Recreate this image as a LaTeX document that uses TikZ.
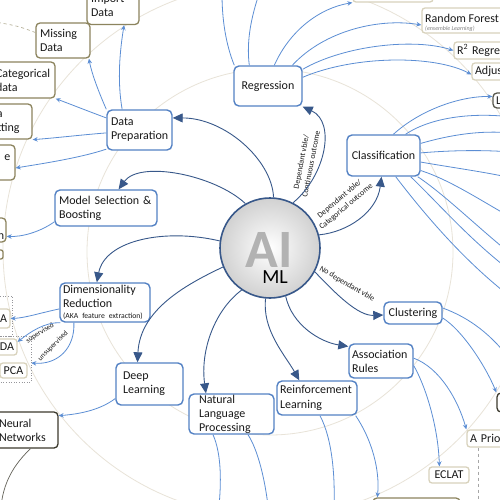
\documentclass[tikz,border=0pt]{standalone}
\usepackage{fontspec}
\setmainfont{Carlito}
\usetikzlibrary{arrows.meta}
\definecolor{mainblue}{RGB}{84,130,196}
\definecolor{darkblue}{RGB}{56,88,138}
\definecolor{lightblue}{RGB}{92,142,212}
\definecolor{oliveb}{RGB}{140,132,94}
\definecolor{beigeb}{RGB}{216,210,188}
\definecolor{darkb}{RGB}{60,58,46}
\definecolor{faintc}{RGB}{232,227,216}
\definecolor{txtc}{RGB}{25,25,25}
\definecolor{aigray}{RGB}{178,178,178}
\definecolor{framec}{RGB}{150,150,155}
\newcommand\bxfont{\fontsize{12}{14}\selectfont}
\newcommand\lbfont{\fontsize{8}{10}\selectfont}
\hyphenpenalty=10000
\exhyphenpenalty=10000
\begin{document}
\begin{tikzpicture}[x=1pt,y=-1pt,
  mbox/.style={draw=mainblue, line width=1.4pt, rounded corners=5pt, fill=white, inner sep=0pt, font=\bxfont, text=txtc, align=left},
  obox/.style={draw=oliveb, line width=1.3pt, rounded corners=4pt, fill=white, inner sep=0pt, font=\bxfont, text=txtc, align=left},
  bbox/.style={draw=beigeb, line width=1.3pt, rounded corners=3pt, fill=white, inner sep=0pt, font=\bxfont, text=txtc, align=left},
  frm/.style={draw=framec, dotted, line width=0.6pt, inner sep=0pt},
  mc/.style={draw=darkblue, line width=0.9pt, -{Triangle[length=10pt,width=9pt]}},
  ca/.style={draw=lightblue, line width=0.8pt, -{Stealth[length=5pt,width=4.5pt]}},
  ln/.style={draw=lightblue, line width=0.8pt},
  sl/.style={font=\fontsize{7.2}{8}\selectfont, text=txtc, inner sep=0pt},
  cl/.style={font=\lbfont, text=txtc, inner sep=0pt, align=center},
  tx/.style={font=\bxfont, text=txtc, inner sep=0pt}
]
\useasboundingbox (0,0) rectangle (500,500);
\clip (0,0) rectangle (500,500);
\fill[white] (0,0) rectangle (500,500);

% faint guide circles
\draw[faintc, line width=0.8pt] (270,252) circle[radius=183pt];
\draw[faintc, line width=0.8pt] (270,250) circle[radius=267pt];

% centre
\node[circle, minimum size=100pt, draw=darkblue, line width=1.6pt, inner color=white, outer color=black!18, inner sep=0pt] (ai) at (270,248) {};
\node[font=\fontsize{54}{54}\selectfont\bfseries, text=aigray, inner sep=0pt] (ait) at (269,250) {AI};
\node[font=\fontsize{20}{20}\selectfont, text=black, inner sep=0pt] (ml) at (275,277) {ML};

% main boxes
\node[mbox, minimum width=68pt, minimum height=40pt, align=center] (reg) at (268,86) {Regression};
\node[mbox, minimum width=65pt, minimum height=40pt, text width=57pt] (dp) at (139.5,130) {Data\\Preparation};
\node[mbox, minimum width=73pt, minimum height=41pt, align=center] (cls) at (383.5,155.5) {Classification};
\node[mbox, minimum width=102pt, minimum height=36pt, text width=94pt] (ms) at (106,208) {Model Selection \&\\Boosting};
\node[mbox, minimum width=90pt, minimum height=39pt, text width=84pt] (dr) at (105,302.5) {Dimensionality\\Reduction\\[-3pt]\mbox{\fontsize{7.7}{9}\selectfont (AKA feature extraction)}};
\node[mbox, minimum width=67pt, minimum height=42pt, text width=53pt] (dl) at (149.5,384) {Deep\\Learning};
\node[mbox, minimum width=85pt, minimum height=40pt, text width=65pt] (nlp) at (231.5,414) {Natural\\Language\\Processing};
\node[mbox, minimum width=80pt, minimum height=34pt, text width=74pt, font=\fontsize{12}{15}\selectfont] (rl) at (317,398) {Reinforcement\\Learning};
\node[mbox, minimum width=64pt, minimum height=34pt, text width=58pt] (ar) at (381,361) {Association\\Rules};
\node[mbox, minimum width=58pt, minimum height=22pt, align=center] (clu) at (413,313) {Clustering};

% olive sub boxes
\node[obox, minimum width=52pt, minimum height=37pt, text width=44pt] (imp) at (113,6) {Import\\Data};
\node[obox, minimum width=54pt, minimum height=35pt, text width=46pt] (mis) at (63,40.5) {Missing\\Data};
\node[obox, minimum width=61pt, minimum height=36pt, text width=57pt] (cat) at (24.5,80) {Categorical\\data};
\node[obox, minimum width=56pt, minimum height=35pt, text width=48pt] (spl) at (4,121.5) {Data\\Splitting};
\node[obox, minimum width=55pt, minimum height=35pt] (fs) at (-12.5,162.5) {};
\node[tx, anchor=base east] (fst) at (10.5,160) {e};
\node[obox, minimum width=46pt, minimum height=24pt] (nb) at (-17,230) {};
\node[tx, anchor=base east] (nbt) at (4.5,239) {n};
\node[obox, minimum width=43pt, minimum height=9pt, rounded corners=2pt] (sb) at (-18.5,254.5) {};
\node[obox, draw=darkb, minimum width=63pt, minimum height=36pt, text width=55pt] (nn) at (26.5,430) {Neural\\Networks};

% beige sub boxes
\node[bbox, minimum width=80pt, minimum height=32pt] (topb) at (393,-14) {};
\node[bbox, minimum width=120pt, minimum height=25pt] (rf) at (482,20.5) {};
\node[tx, anchor=north west, align=left] (rft) at (425,13.8) {Random Forest\\[-6pt]{\fontsize{6}{7}\selectfont\itshape\color{gray}(ensemble Learning)}};
\node[bbox, minimum width=106pt, minimum height=17pt, text width=100pt] (r2) at (507,50.5) {R\textsuperscript{2} Regre};
\node[bbox, minimum width=88pt, minimum height=17pt, text width=82pt] (adj) at (516,71.5) {Adjus};
\node[obox, draw=darkb!85, minimum width=67pt, minimum height=15pt, text width=61pt] (li) at (526.5,100.5) {Li};
\node[bbox, minimum width=93pt, minimum height=17pt, text width=87pt] (apr) at (513.5,438.5) {A Prior};
\node[bbox, minimum width=40pt, minimum height=16pt, align=center] (ecl) at (449,475) {ECLAT};
\node[obox, minimum width=87pt, minimum height=32pt] (botb) at (416.5,514) {};
\node[obox, draw=darkb, minimum width=43pt, minimum height=19pt] (rbox) at (518.5,402.5) {};

% dimensionality reduction group
\node[frm, minimum width=32pt, minimum height=40pt] (frA) at (-4,316) {};
\node[frm, minimum width=51pt, minimum height=46pt] (frB) at (5.5,359) {};
\node[bbox, minimum width=50pt, minimum height=19pt, text width=44pt, align=right] (kpca) at (-15,318.5) {A};
\node[bbox, minimum width=47pt, minimum height=16pt, text width=41pt, align=right] (lda) at (-6.5,347) {DA};
\node[bbox, minimum width=27pt, minimum height=15pt, align=center] (pca) at (13.5,370.5) {PCA};
\node[sl, rotate=33] (sup) at (40,333) {supervised};
\node[sl, rotate=45] (uns) at (53,346) {unsupervised};

% connector labels
\node[cl, rotate=79] (lreg) at (306,163) {Dependant vble/\\Continuous outcome};
\node[cl, rotate=40] (lcls) at (343,203) {Dependant vble/\\Categorical outcome};
\node[cl, rotate=-30] (lclu) at (347,284) {No dependant vble};

% free ends
\coordinate (nnend) at (1,506);
\coordinate (nlpe1) at (219,506);
\coordinate (nlpe2) at (268,506);
\coordinate (rle1) at (334,506);
\coordinate (apre) at (478,506);
\coordinate (clue) at (512,362);
\coordinate (rge1) at (222,-6);
\coordinate (rge2) at (259,-6);
\coordinate (mise) at (-5,22);
\coordinate (ce1) at (512,117);
\coordinate (ce2) at (512,133);
\coordinate (ce3) at (512,152);
\coordinate (ce4) at (512,178);
\coordinate (ce5) at (512,218);
\coordinate (ce6) at (512,255);
\coordinate (ce7) at (512,272);
\coordinate (ce8) at (512,298);

% main connectors
\draw[mc] (ai.63) .. controls (326,175) and (336,122) .. (reg.south east);
\draw[mc] (ai.15) .. controls (348,232) and (377,212) .. ([xshift=-2pt]cls.south);
\draw[mc] (ai.-28) .. controls (336,294) and (358,316) .. ([yshift=-2pt]clu.west);
\draw[mc] (ai.-72) .. controls (292,325) and (320,342) .. (ar.156);
\draw[mc] (ai.-95) .. controls (262,330) and (285,355) .. (rl.135);
\draw[mc] (ai.-124) .. controls (215,310) and (200,350) .. (nlp.141);
\draw[mc] (ai.-158) .. controls (185,285) and (140,310) .. (dl.119);
\draw[mc] (ai.172) .. controls (165,228) and (105,240) .. (dr.112);
\draw[mc] (ai.119) .. controls (215,175) and (140,160) .. (ms.56);
\draw[mc] (ai.86) .. controls (272,160) and (225,118) .. (dp.20);

% data preparation children
\draw[ca] (dp.130) .. controls (117,80) and (120,50) .. (imp.-60);
\draw[ca] (dp.north west) .. controls (100,95) and (92,75) .. (mis.-35);
\draw[ca] (dp.160) .. controls (85,110) and (70,104) .. (cat.south east);
\draw[ca] (dp.185) .. controls (80,135) and (55,138) .. (spl.south east);
\draw[ca] (dp.210) .. controls (80,158) and (40,164) .. (fs.-11);
\draw[draw=oliveb!70, dashed, line width=0.6pt] ([yshift=8pt]mis.west) .. controls (18,26) .. (mise);
% model selection
\draw[ca] (ms.195) .. controls (40,232) and (22,237) .. (nb.-15);
% dimensionality reduction
\draw[ca] (dr.188) .. controls (40,313) and (25,318) .. (kpca.east);
\draw[ca] ([xshift=1pt]dr.south west) .. controls (45,322) and (30,332) .. (lda.12);
\draw[ca] (dr.-147) .. controls (75,348) and (58,365) .. ([yshift=-4pt]frB.east);
% deep learning
\draw[ca] (dl.203) .. controls (100,410) and (80,414) .. (nn.24);
\draw[draw=darkb!80, line width=0.7pt] ([xshift=4pt]nn.south) .. controls (8,470) and (3,490) .. (nnend);
% NLP
\draw[ln] ([xshift=-18.5pt]nlp.south) .. controls (222,455) and (221,485) .. (nlpe1);
\draw[ln] ([xshift=16.5pt]nlp.south) .. controls (258,450) and (265,480) .. (nlpe2);
% RL
\draw[ln] ([xshift=3pt]rl.south) .. controls (333,440) and (335,480) .. (rle1);
\draw[ca] ([xshift=-2pt]rl.south east) .. controls (372,440) and (380,470) .. ([xshift=5pt]botb.north west);
% association rules
\draw[ca] (ar.5) .. controls (440,368) and (458,400) .. (apr.north west);
\draw[ca] (ar.-8) .. controls (425,385) and (438,425) .. (ecl.138);
\draw[draw=gray!70, dashed, line width=0.6pt] ([xshift=-35.5pt]apr.south) -- (apre);
% clustering
\draw[ca] ([yshift=-5pt]clu.east) .. controls (462,330) and (485,365) .. (rbox.north west);
\draw[ln] ([yshift=5pt]clu.east) .. controls (470,318) and (492,335) .. (clue);
% regression
\draw[ln] ([xshift=1pt]reg.north west) .. controls (226,45) and (222,20) .. (rge1);
\draw[ln] ([xshift=16pt]reg.north west) .. controls (246,40) and (252,15) .. (rge2);
\draw[ca] ([xshift=41pt]reg.north west) .. controls (290,30) and (320,8) .. (topb.south west);
\draw[ca] ([xshift=59pt]reg.north west) .. controls (325,30) and (380,18) .. ([yshift=-4.5pt]rf.west);
\draw[ca] ([yshift=-4pt]reg.north east) .. controls (345,45) and (415,38) .. (r2.west);
\draw[ca] ([yshift=-12pt]reg.north east) .. controls (355,55) and (435,55) .. ([yshift=-3pt]adj.west);
% classification
\draw[ca] (cls.65) .. controls (420,110) and (460,96) .. ([yshift=4pt]li.west);
\draw[ln] (cls.44) .. controls (430,118) and (470,112) .. (ce1);
\draw[ln] (cls.18) .. controls (450,135) and (480,130) .. (ce2);
\draw[ln] (cls.4) .. controls (455,150) and (485,150) .. (ce3);
\draw[ln] (cls.-10) .. controls (455,168) and (485,172) .. (ce4);
\draw[ln] (cls.-22) .. controls (450,180) and (480,200) .. (ce5);
\draw[ln] ([xshift=-3pt]cls.south east) .. controls (445,195) and (475,225) .. (ce6);
\draw[ln] ([xshift=-10pt]cls.south east) .. controls (440,205) and (470,240) .. (ce7);
\draw[ln] ([xshift=-25pt]cls.south east) .. controls (425,215) and (465,262) .. (ce8);
\end{tikzpicture}
\end{document}
